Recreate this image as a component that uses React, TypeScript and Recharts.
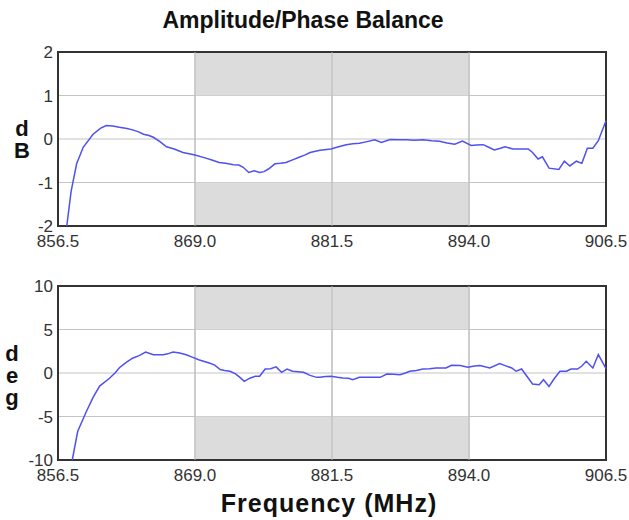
import React from 'react';
import {
  LineChart,
  Line,
  XAxis,
  YAxis,
  CartesianGrid,
  ReferenceArea,
  ReferenceLine,
} from 'recharts';

// frequency axis (MHz)
const freqTicks = [856.5, 869.0, 881.5, 894.0, 906.5];
const ampTicks = [-2, -1, 0, 1, 2];
const phaseTicks = [-10, -5, 0, 5, 10];

// shaded spec band
const bandStart = 869.0;
const bandEnd = 894.0;
const ampLimit = 1;
const phaseLimit = 5;

// amplitude balance, dB
const ampFreq = [
  857.3, 857.7, 858.2, 858.8, 859.7, 860.4, 860.9, 861.5, 862.1, 862.8,
  863.3, 863.8, 864.3, 864.8, 865.2, 865.8, 866.4, 867.1, 867.9, 868.9,
  870.0, 870.6, 871.2, 871.8, 872.5, 873.0, 873.4, 873.9, 874.4, 874.9,
  875.3, 875.7, 876.3, 876.8, 877.3, 877.9, 878.5, 879.0, 879.5, 880.4,
  881.4, 882.1, 882.8, 883.4, 884.0, 884.7, 885.4, 886.0, 886.8, 887.5,
  888.3, 889.0, 889.8, 890.6, 891.3, 892.0, 892.7, 893.4, 894.2, 894.7,
  895.3, 895.8, 896.3, 896.8, 897.3, 898.0, 898.7, 899.4, 899.8, 900.3,
  900.7, 901.3, 902.2, 902.7, 903.2, 903.8, 904.3, 904.8, 905.3, 905.8,
  906.5,
];
const ampDb = [
  -2.0, -1.2, -0.57, -0.19, 0.11, 0.25, 0.31, 0.3, 0.27, 0.24,
  0.21, 0.17, 0.11, 0.08, 0.04, -0.06, -0.18, -0.23, -0.31, -0.36,
  -0.44, -0.49, -0.54, -0.56, -0.59, -0.6, -0.65, -0.77, -0.73, -0.77,
  -0.75, -0.69, -0.57, -0.56, -0.54, -0.48, -0.42, -0.37, -0.31, -0.26,
  -0.23, -0.18, -0.13, -0.11, -0.1, -0.06, -0.02, -0.08, -0.01, -0.02,
  -0.02, -0.03, -0.02, -0.04, -0.05, -0.09, -0.12, -0.05, -0.15, -0.14,
  -0.13, -0.19, -0.25, -0.22, -0.18, -0.23, -0.23, -0.23, -0.31, -0.46,
  -0.41, -0.67, -0.7, -0.51, -0.62, -0.51, -0.56, -0.21, -0.21, -0.04,
  0.42,
];

// phase balance, degrees
const phaseFreq = [
  857.8, 858.3, 859.1, 859.7, 860.3, 861.2, 861.7, 862.1, 862.7, 863.3,
  863.9, 864.5, 865.2, 866.1, 866.5, 867.0, 867.6, 868.2, 868.8, 869.4,
  870.3, 870.8, 871.3, 871.7, 872.2, 872.7, 873.1, 873.5, 874.0, 874.5,
  874.9, 875.4, 875.9, 876.4, 876.9, 877.4, 877.9, 878.9, 879.5, 880.1,
  880.4, 880.9, 881.4, 882.0, 882.5, 883.0, 883.4, 884.0, 884.9, 885.9,
  886.5, 887.1, 887.7, 888.2, 888.6, 889.2, 889.8, 890.4, 891.0, 891.9,
  892.4, 893.2, 893.9, 894.5, 895.0, 895.9, 896.8, 897.3, 897.9, 898.3,
  898.8, 899.3, 899.8, 900.4, 900.8, 901.3, 901.8, 902.3, 902.9, 903.3,
  903.9, 904.3, 904.7, 905.3, 905.8, 906.5,
];
const phaseDeg = [
  -10.0, -6.7, -4.4, -2.8, -1.5, -0.6, 0.0, 0.6, 1.2, 1.7,
  2.0, 2.4, 2.1, 2.1, 2.2, 2.4, 2.3, 2.1, 1.8, 1.5,
  1.15, 0.9, 0.4, 0.3, 0.2, -0.1, -0.5, -0.96, -0.6, -0.38,
  -0.38, 0.46, 0.5, 0.7, 0.08, 0.46, 0.2, 0.08, -0.27, -0.5,
  -0.5, -0.4, -0.38, -0.5, -0.58, -0.6, -0.77, -0.5, -0.5, -0.5,
  -0.12, -0.15, -0.19, 0.0, 0.2, 0.3, 0.46, 0.5, 0.58, 0.58,
  0.89, 0.85, 0.66, 0.8, 0.85, 0.58, 1.08, 0.85, 0.58, 0.2,
  0.46, -0.4, -1.27, -1.34, -0.77, -1.54, -0.6, 0.2, 0.2, 0.46,
  0.46, 0.8, 1.35, 0.58, 2.12, 0.5,
];

const ampData = ampFreq.map((f, i) => ({ f, v: ampDb[i] }));
const phaseData = phaseFreq.map((f, i) => ({ f, v: phaseDeg[i] }));

const FONT = '"Liberation Sans", Arial, Helvetica, sans-serif';
const tickStyle = { fontSize: 17, fill: '#333', fontFamily: FONT };
const lineColor = '#5050f0';
const gridColor = '#c4c4c4';

function StackedLabel({ letters, x, y0 }: { letters: string[]; x: number; y0: number }) {
  return (
    <text
      x={x}
      y={y0}
      textAnchor="middle"
      fontSize={22}
      fontWeight="bold"
      fontFamily={FONT}
      fill="#111"
    >
      {letters.map((l, i) => (
        <tspan key={i} x={x} y={y0 + i * 22}>
          {l}
        </tspan>
      ))}
    </text>
  );
}

interface PanelProps {
  data: { f: number; v: number }[];
  yTicks: number[];
  limit: number;
  height: number;
  margin: { top: number; right: number; left: number; bottom: number };
  yLabel: React.ReactNode;
  xLabel?: React.ReactNode;
}

function Panel({ data, yTicks, limit, height, margin, yLabel, xLabel }: PanelProps) {
  const yMin = yTicks[0];
  const yMax = yTicks[yTicks.length - 1];
  const innerX = freqTicks.slice(1, -1);
  return (
    <LineChart width={629} height={height} data={data} margin={margin}>
      <CartesianGrid stroke={gridColor} strokeWidth={1} />
      <ReferenceArea x1={bandStart} x2={bandEnd} y1={limit} y2={yMax} fill="#dcdcdc" fillOpacity={1} stroke="none" />
      <ReferenceArea x1={bandStart} x2={bandEnd} y1={yMin} y2={-limit} fill="#dcdcdc" fillOpacity={1} stroke="none" />
      {/* vertical grid lines stay visible over the shaded band */}
      {innerX.map((x) => (
        <ReferenceLine key={x} x={x} stroke="#b8b8b8" strokeWidth={1} />
      ))}
      <XAxis
        dataKey="f"
        type="number"
        domain={[freqTicks[0], freqTicks[freqTicks.length - 1]]}
        ticks={freqTicks}
        interval={0}
        tickFormatter={(v: number) => v.toFixed(1)}
        tick={tickStyle}
        tickLine={false}
        axisLine={false}
        tickSize={0}
        tickMargin={9}
        height={30}
        label={xLabel ? () => xLabel : undefined}
      />
      <YAxis
        type="number"
        domain={[yMin, yMax]}
        ticks={yTicks}
        interval={0}
        tick={tickStyle}
        tickLine={false}
        axisLine={false}
        tickSize={0}
        tickMargin={5}
        width={58}
        label={() => yLabel}
      />
      <Line
        type="linear"
        dataKey="v"
        stroke={lineColor}
        strokeWidth={1.5}
        dot={false}
        isAnimationActive={false}
      />
      <ReferenceArea
        x1={freqTicks[0]}
        x2={freqTicks[freqTicks.length - 1]}
        y1={yMin}
        y2={yMax}
        fill="none"
        stroke="#333"
        strokeWidth={2}
      />
    </LineChart>
  );
}

export default function App() {
  return (
    <div
      style={{
        position: 'absolute',
        left: 0,
        top: 0,
        width: 629,
        height: 520,
        background: '#fff',
        fontFamily: FONT,
      }}
    >
      <div
        style={{
          position: 'absolute',
          left: 0,
          top: 9,
          width: 606,
          textAlign: 'center',
          fontSize: 23,
          lineHeight: '23px',
          fontWeight: 'bold',
          color: '#111',
        }}
      >
        Amplitude/Phase Balance
      </div>
      <div style={{ position: 'absolute', left: 0, top: 0 }}>
        <Panel
          data={ampData}
          yTicks={ampTicks}
          limit={ampLimit}
          height={260}
          margin={{ top: 52, right: 23, left: 0, bottom: 4 }}
          yLabel={<StackedLabel letters={['d', 'B']} x={22} y0={136} />}
        />
      </div>
      <div style={{ position: 'absolute', left: 0, top: 260 }}>
        <Panel
          data={phaseData}
          yTicks={phaseTicks}
          limit={phaseLimit}
          height={260}
          margin={{ top: 26, right: 23, left: 0, bottom: 30 }}
          yLabel={<StackedLabel letters={['d', 'e', 'g']} x={12} y0={101} />}
          xLabel={
            <text
              x={329}
              y={252}
              textAnchor="middle"
              fontSize={25}
              fontWeight="bold"
              fontFamily={FONT}
              letterSpacing={1}
              fill="#111"
            >
              Frequency (MHz)
            </text>
          }
        />
      </div>
    </div>
  );
}
